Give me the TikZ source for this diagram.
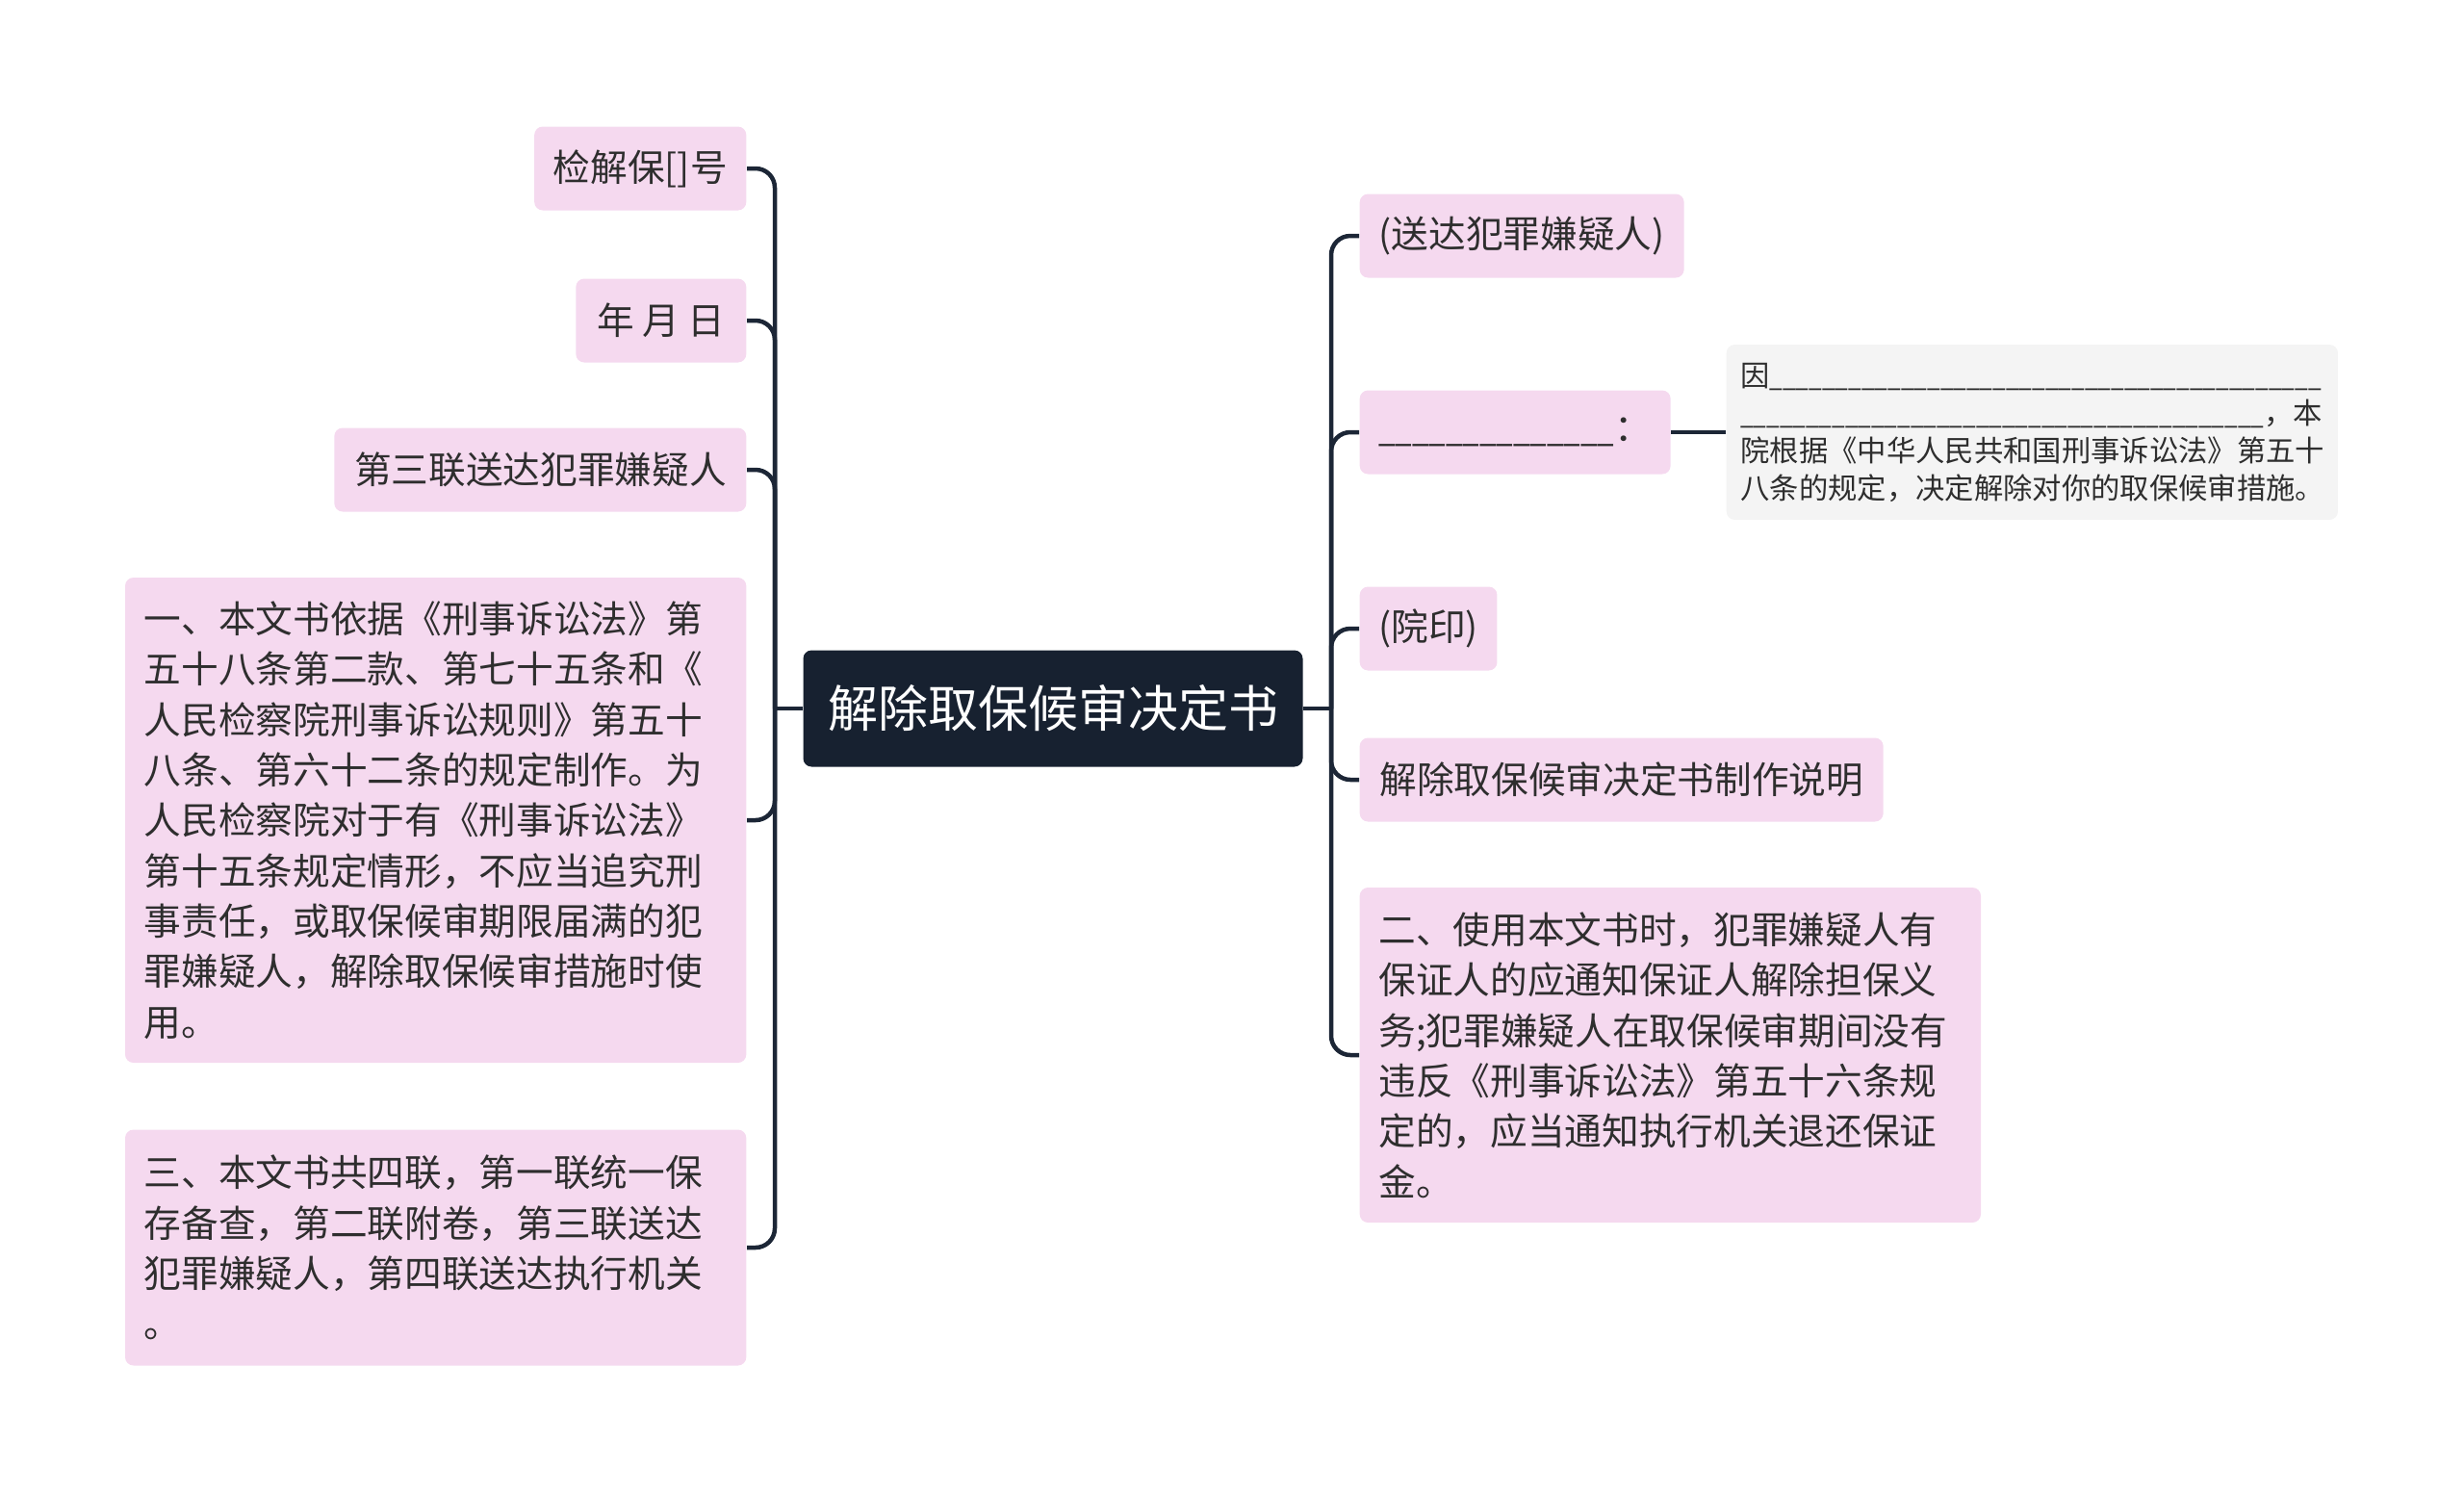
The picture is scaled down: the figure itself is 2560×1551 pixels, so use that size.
\documentclass[tikz,border=0pt]{standalone}
\usepackage{fontspec}
\setmainfont{Noto Sans CJK SC}
\usepackage{graphicx}
\definecolor{pinkfill}{HTML}{F5D9EF}
\definecolor{greyfill}{HTML}{F4F4F4}
\definecolor{rootfill}{HTML}{172130}
\definecolor{linecol}{HTML}{1C2636}
\definecolor{txt}{HTML}{2E2E2E}
\newcommand{\blankfill}[2]{\resizebox*{#2}{\totalheight}{#1}}
\begin{document}
\begin{tikzpicture}[x=0.3pt,y=-0.3pt,
  pinkbox/.style={fill=pinkfill, rounded corners=2.6pt, text=txt, inner xsep=5.9pt, inner ysep=2pt,
     font=\fontsize{11.6pt}{15.7pt}\selectfont, minimum height=26.1pt},
  multibox/.style={pinkbox, text width=181.8pt, align=left},
  greybox/.style={fill=greyfill, rounded corners=2.6pt, text=txt, inner xsep=4.4pt, inner ysep=2pt,
     font=\fontsize{9.1pt}{11.7pt}\selectfont, text width=181.8pt, align=left, minimum height=54.6pt},
  rootbox/.style={fill=rootfill, rounded corners=2.6pt, text=white, font=\fontsize{15.6pt}{18pt}\selectfont,
     minimum width=155.7pt, minimum height=36.3pt, inner sep=0pt},
  conn/.style={draw=linecol, line width=1.35pt, rounded corners=6pt}
]
\useasboundingbox (0,0) rectangle (2560,1551);

\node[rootbox] (root) at (1094,736) {解除取保候审决定书};

% left children
\node[pinkbox, anchor=east, minimum width=65.7pt] (n1) at (776,175) {检解保[]号};
\node[pinkbox, anchor=east, minimum width=53.1pt] (n2) at (776,333) {年 月 日};
\node[pinkbox, anchor=east, minimum width=128.4pt] (n3) at (776,488) {第三联送达犯罪嫌疑人};
\node[multibox, anchor=east, minimum height=151.2pt] (n4) at (776,852) {一、本文书依据《刑事诉讼法》第\\五十八条第二款、第七十五条和《\\人民检察院刑事诉讼规则》第五十\\八条、第六十二条的规定制作。为\\人民检察院对于有《刑事诉讼法》\\第十五条规定情形，不应当追究刑\\事责任，或取保候审期限届满的犯\\罪嫌疑人，解除取保候审措施时使\\用。};
\node[multibox, anchor=east, minimum height=73.5pt] (n5) at (776,1296) {三、本文书共四联，第一联统一保\\存备查，第二联附卷，第三联送达\\犯罪嫌疑人，第四联送达执行机关\\。};

% right children
\node[pinkbox, anchor=west, minimum width=101.1pt] (r1) at (1412,245) {(送达犯罪嫌疑人)};
\node[pinkbox, anchor=west, minimum width=96pt] (r2) at (1412,449) {\blankfill{\_\_\_\_\_\_\_\_\_\_\_\_\_\_}{73.5pt}：};
\node[pinkbox, anchor=west, minimum width=42.3pt] (r3) at (1412,653) {(院印)};
\node[pinkbox, anchor=west, minimum width=163.2pt] (r4) at (1412,810) {解除取保候审决定书制作说明};
\node[multibox, anchor=west, minimum height=104.4pt] (r5) at (1412,1096) {二、使用本文书时，犯罪嫌疑人有\\保证人的应通知保证人解除担保义\\务;犯罪嫌疑人在取保候审期间没有\\违反《刑事诉讼法》第五十六条规\\定的，应当通知执行机关退还保证\\金。};

\node[greybox, anchor=west] (d1) at (1793,449) {因\blankfill{\_\_\_\_\_\_\_\_\_\_\_\_\_\_\_\_\_\_\_\_\_\_\_\_\_\_\_\_\_\_\_\_\_\_\_\_\_\_\_\_\_\_}{171.9pt}\\\blankfill{\_\_\_\_\_\_\_\_\_\_\_\_\_\_\_\_\_\_\_\_\_\_\_\_\_\_\_\_\_\_\_\_\_\_\_\_\_\_\_\_}{163.2pt}，本\\院根据《中华人民共和国刑事诉讼法》第五十\\八条的规定，决定解除对你的取保候审措施。};

% spines
\coordinate (ls) at (805,736);
\coordinate (rs) at (1383,736);

\draw[conn] (root.west) -- (ls);
\foreach \c in {n1,n2,n3,n4,n5} \draw[conn] (ls) |- (\c.east);
\draw[conn] (root.east) -- (rs);
\foreach \c in {r1,r2,r3,r4,r5} \draw[conn] (rs) |- (\c.west);
\draw[conn] (r2.east) -- (d1.west);
\end{tikzpicture}
\end{document}
